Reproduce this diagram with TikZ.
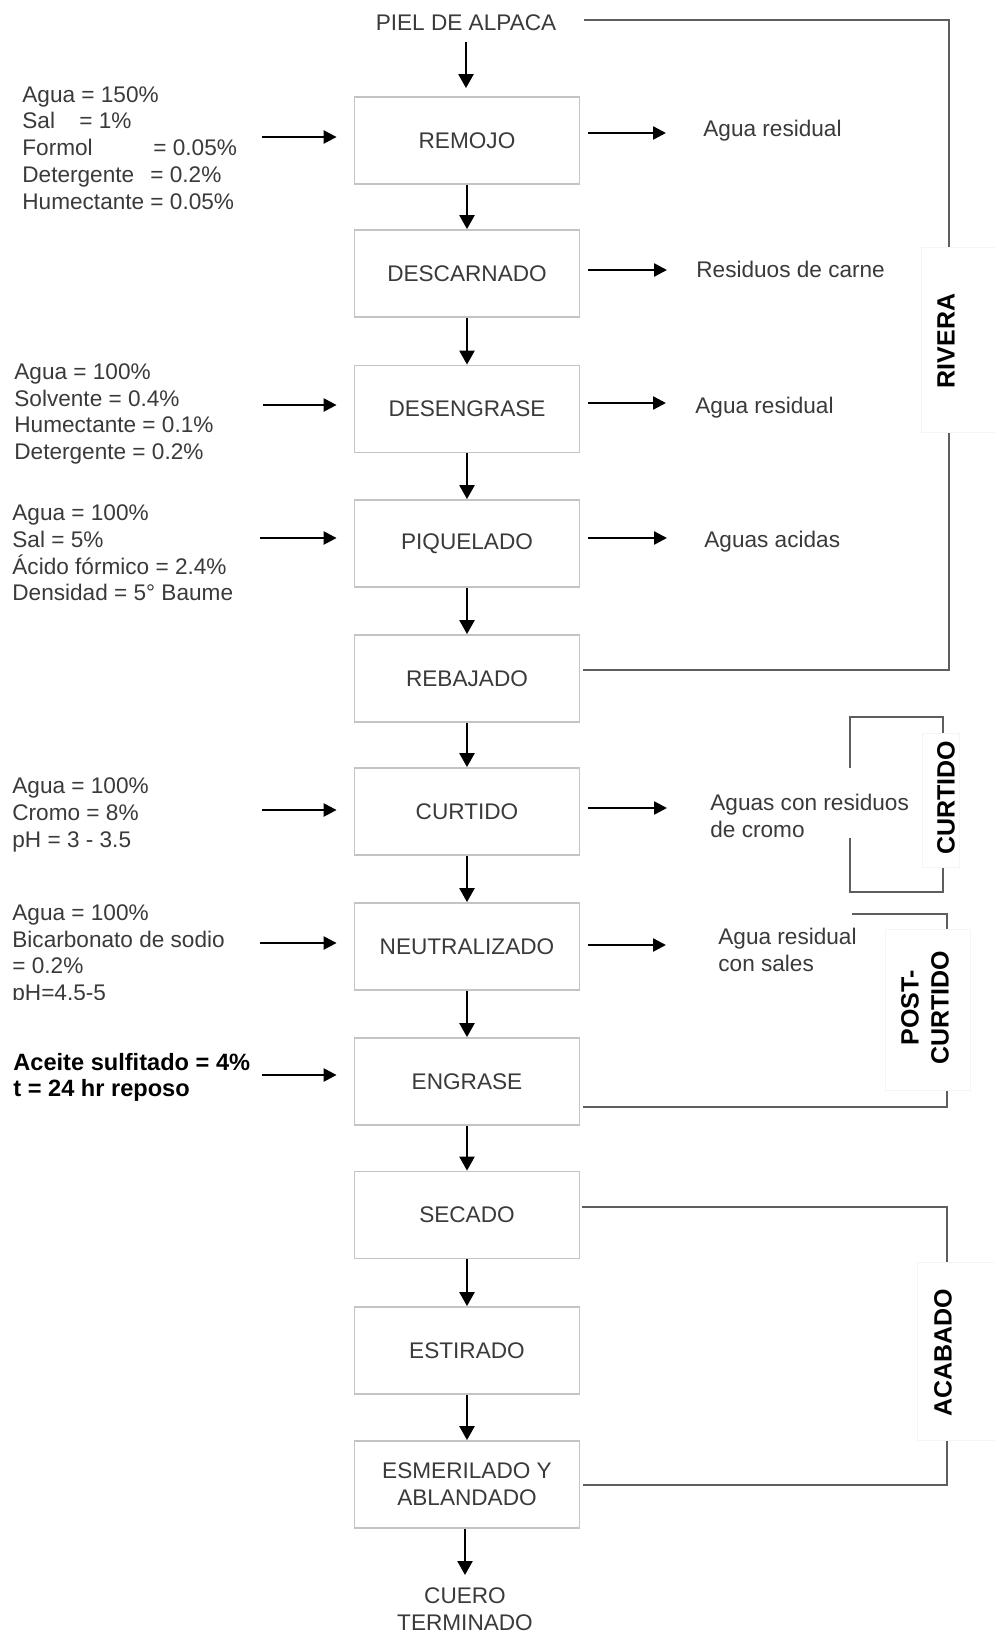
\documentclass[tikz,border=0pt]{standalone}
\usepackage{fontspec}
\setmainfont{Liberation Sans}
\usetikzlibrary{arrows.meta}
\definecolor{txt}{HTML}{3A3A3A}
\definecolor{boxc}{HTML}{C4C4C4}
\definecolor{brk}{HTML}{5E5E5E}
\definecolor{lbl}{HTML}{F5F5F5}
\begin{document}
\begin{tikzpicture}[x=0.5pt,y=-0.5pt,
  every node/.style={font=\fontsize{11.3pt}{13.4pt}\selectfont, text=txt, inner sep=0pt},
  stepbox/.style={draw=boxc, line width=0.9pt, minimum width=112.5pt, minimum height=43.5pt, align=center},
  inlist/.style={anchor=west, align=left},
  outtxt/.style={anchor=west, align=left},
  flow/.style={-{Triangle[length=7pt,width=7.5pt]}, line width=1.2pt, black},
  sideflow/.style={-{Triangle[length=6.5pt,width=6.5pt]}, line width=1.2pt, black},
  bracket/.style={draw=brk, line width=1pt},
  grouplbl/.style={draw=lbl, fill=white, line width=0.5pt},
  grouptxt/.style={rotate=90, font=\fontsize{12.5pt}{15pt}\selectfont\bfseries, text=black, align=center},
]
\fill[white] (0,0) rectangle (995,1633);
\useasboundingbox (0,0) rectangle (995,1633);

% ---------- main column ----------
\node (piel) at (466,23) {PIEL DE ALPACA};
\node[stepbox] (remojo)     at (467,140.5)  {REMOJO};
\node[stepbox] (descarnado) at (467,273.5)  {DESCARNADO};
\node[stepbox] (desengrase) at (467,409)    {DESENGRASE};
\node[stepbox] (piquelado)  at (467,543.5)  {PIQUELADO};
\node[stepbox] (rebajado)   at (467,678.5)  {REBAJADO};
\node[stepbox] (curtido)    at (467,811.5)  {CURTIDO};
\node[stepbox] (neutral)    at (467,946.5)  {NEUTRALIZADO};
\node[stepbox] (engrase)    at (467,1081.5) {ENGRASE};
\node[stepbox] (secado)     at (467,1215)   {SECADO};
\node[stepbox] (estirado)   at (467,1350.5) {ESTIRADO};
\node[stepbox] (esmerilado) at (467,1484.5) {ESMERILADO Y\\ABLANDADO};
\node[align=center] (cuero) at (465,1609) {CUERO\\TERMINADO};

\draw[flow, shorten <=5.5pt, shorten >=4pt] (piel.south) -- (piel.south |- remojo.north);
\draw[flow] (remojo.south) -- (descarnado.north);
\draw[flow] (descarnado.south) -- (desengrase.north);
\draw[flow] (desengrase.south) -- (piquelado.north);
\draw[flow] (piquelado.south) -- (rebajado.north);
\draw[flow] (rebajado.south) -- (curtido.north);
\draw[flow] (curtido.south) -- (neutral.north);
\draw[flow] (neutral.south) -- (engrase.north);
\draw[flow] (engrase.south) -- (secado.north);
\draw[flow] (secado.south) -- (estirado.north);
\draw[flow] (estirado.south) -- (esmerilado.north);
\coordinate (endarr) at (465,1575);
\draw[flow] (esmerilado.south -| endarr) -- (endarr);

% ---------- inputs ----------
\node[inlist] (in1) at (22,148) {Agua = 150\%\\\makebox[28.5pt][l]{Sal}= 1\%\\\makebox[65.5pt][l]{Formol}= 0.05\%\\\makebox[64pt][l]{Detergente}= 0.2\%\\Humectante = 0.05\%};
\node[inlist] (in3) at (14,414) {Agua = 100\%\\Solvente = 0.4\%\\Humectante = 0.1\%\\Detergente = 0.2\%};
\node[inlist] (in4) at (12,553) {Agua = 100\%\\Sal = 5\%\\Ácido fórmico = 2.4\%\\Densidad = 5° Baume};
\node[inlist] (in6) at (12,815) {Agua = 100\%\\Cromo = 8\%\\pH = 3 - 3.5};
\begin{scope}
\clip (0,890) rectangle (320,999);
\node[inlist] (in7) at (12,955) {Agua = 100\%\\Bicarbonato de sodio\\= 0.2\%\\pH=4.5-5};
\end{scope}
\node[inlist, text=black, font=\fontsize{11.8pt}{13pt}\selectfont\bfseries] (in8) at (13,1077) {Aceite sulfitado = 4\%\\t = 24 hr reposo};

\coordinate (a1) at (262,137);
\coordinate (a3) at (263,405);
\coordinate (a4) at (260,538);
\coordinate (a6) at (262,810);
\coordinate (a7) at (260,943);
\coordinate (a8) at (262,1075);
\draw[sideflow, shorten >=8.5pt] (a1) -- (a1 -| remojo.west);
\draw[sideflow, shorten >=8.5pt] (a3) -- (a3 -| desengrase.west);
\draw[sideflow, shorten >=8.5pt] (a4) -- (a4 -| piquelado.west);
\draw[sideflow, shorten >=8.5pt] (a6) -- (a6 -| curtido.west);
\draw[sideflow, shorten >=8.5pt] (a7) -- (a7 -| neutral.west);
\draw[sideflow, shorten >=8.5pt] (a8) -- (a8 -| engrase.west);

% ---------- outputs ----------
\node[outtxt] (o1) at (703,131) {Agua residual};
\node[outtxt] (o2) at (696,269) {Residuos de carne};
\node[outtxt] (o3) at (695,408) {Agua residual};
\node[outtxt] (o4) at (704,542) {Aguas acidas};
\node[outtxt] (o6) at (710,816) {Aguas con residuos\\de cromo};
\node[outtxt] (o7) at (718,950) {Agua residual\\con sales};

\coordinate (b1) at (666,133);
\coordinate (b2) at (667,270);
\coordinate (b3) at (666,403);
\coordinate (b4) at (667,538);
\coordinate (b6) at (667,808);
\coordinate (b7) at (666,945);
\draw[sideflow, shorten <=4pt] (b1 -| remojo.east) -- (b1);
\draw[sideflow, shorten <=4pt] (b2 -| descarnado.east) -- (b2);
\draw[sideflow, shorten <=4pt] (b3 -| desengrase.east) -- (b3);
\draw[sideflow, shorten <=4pt] (b4 -| piquelado.east) -- (b4);
\draw[sideflow, shorten <=4pt] (b6 -| curtido.east) -- (b6);
\draw[sideflow, shorten <=4pt] (b7 -| neutral.east) -- (b7);

% ---------- group brackets ----------
% RIVERA
\node[grouplbl, minimum width=37pt, minimum height=92.5pt] (rivlbl) at (958,339.5) {};
\node[grouptxt] (rivtxt) at (946,341) {RIVERA};
\coordinate (rv1) at (949,20);
\coordinate (rv2) at (949,670);
\draw[bracket, shorten <=13.5pt] (piel.east |- rv1) -- (rv1) -- (rv1 |- rivlbl.north);
\draw[bracket, shorten >=1.5pt] (rv1 |- rivlbl.south) -- (rv2) -- (rv2 -| rebajado.east);

% CURTIDO
\node[grouplbl, minimum width=18.5pt, minimum height=67pt] (curlbl) at (940.5,800) {};
\node[grouptxt] (curtxt) at (946,798) {CURTIDO};
\coordinate (ct1) at (850,717);
\coordinate (ct2) at (943,717);
\coordinate (ct3) at (943,892);
\coordinate (ct4) at (850,892);
\coordinate (ct5) at (850,768);
\coordinate (ct6) at (850,838);
\draw[bracket] (ct5) -- (ct1) -- (ct2) -- (ct2 |- curlbl.north);
\draw[bracket] (ct6) -- (ct4) -- (ct3) -- (ct3 |- curlbl.south);

% POST-CURTIDO
\node[grouplbl, minimum width=42.5pt, minimum height=80.5pt] (pclbl) at (927.5,1009.5) {};
\node[grouptxt] (pctxt) at (925,1008) {POST-\\CURTIDO};
\coordinate (pc1) at (852,914);
\coordinate (pc2) at (947,914);
\coordinate (pc3) at (947,1107);
\draw[bracket] (pc1) -- (pc2) -- (pc2 |- pclbl.north);
\draw[bracket, shorten >=1.5pt] (pc2 |- pclbl.south) -- (pc3) -- (pc3 -| engrase.east);

% ACABADO
\node[grouplbl, minimum width=39pt, minimum height=89pt] (aclbl) at (956,1351) {};
\node[grouptxt] (actxt) at (943,1353) {ACABADO};
\coordinate (ac1) at (947,1207);
\coordinate (ac2) at (947,1485);
\draw[bracket, shorten <=1pt] (ac1 -| secado.east) -- (ac1) -- (ac1 |- aclbl.north);
\draw[bracket, shorten >=1.5pt] (ac1 |- aclbl.south) -- (ac2) -- (ac2 -| esmerilado.east);
\end{tikzpicture}
\end{document}
